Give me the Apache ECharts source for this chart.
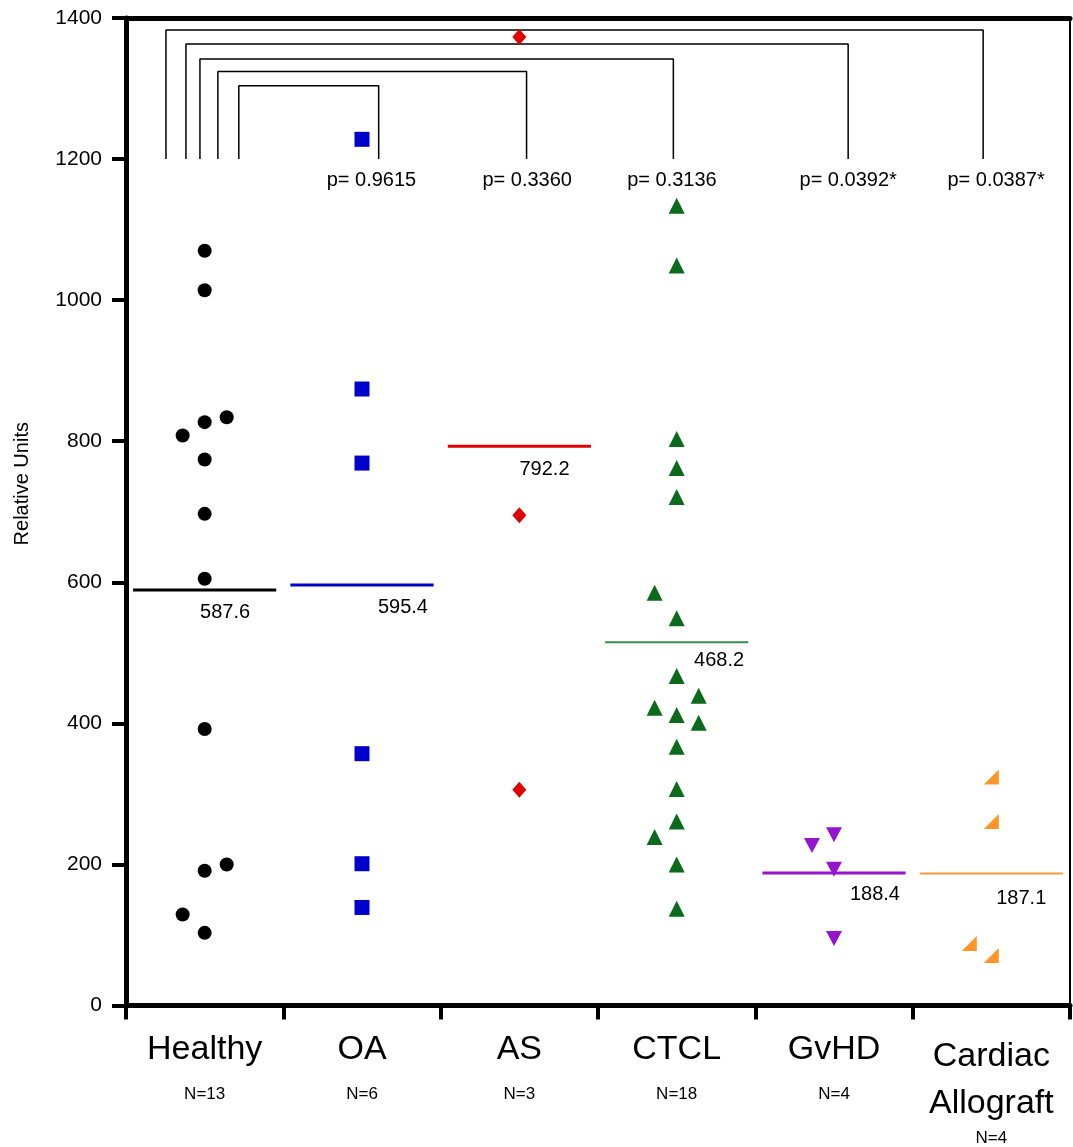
<!DOCTYPE html>
<html>
<head>
<meta charset="utf-8">
<script src="https://cdn.jsdelivr.net/npm/echarts@6/dist/echarts.min.js"></script>
<style>
    html, body { margin: 0; padding: 0; background: #fff; }
    #chart { width: 1073px; height: 1147px; }
</style>
</head>
<body>
<div id="chart"></div>
<script>
// groups along the x axis
const categories = ["Healthy", "OA", "AS", "CTCL", "GvHD", "Cardiac\nAllograft"];
const counts = ["N=13", "N=6", "N=3", "N=18", "N=4", "N=4"];

// points: [x position in group units (index + jitter), value]
const healthy = [[0, 1070], [0, 1014], [-0.14, 808], [0, 827], [0.14, 834], [0, 774], [0, 697],
    [0, 605], [0, 392], [0, 191], [0.14, 200], [-0.14, 129], [0, 103]];
const oa = [[1, 1228], [1, 874], [1, 769], [1, 357], [1, 201], [1, 139]];
const as = [[2, 1373], [2, 695], [2, 306]];
const ctcl = [[3, 1134], [3, 1049], [3, 803], [3, 762], [3, 721], [2.86, 585], [3, 549], [3, 467],
    [3.14, 439], [2.86, 422], [3, 412], [3.14, 401], [3, 367], [3, 307], [3, 261], [2.86, 239],
    [3, 200], [3, 137]];
const gvhd = [[3.86, 227], [4, 242], [4, 193], [4, 95]];
const cardiac = [[5, 324], [5, 261], [4.86, 88], [5, 71]];

// horizontal summary lines (drawn value) and their printed labels
const meanLine = [589, 596, 793, 515, 188, 187];
const meanText = ["587.6", "595.4", "792.2", "468.2", "188.4", "187.1"];
const meanTextPos = [[0.13, 557], [1.26, 564], [2.16, 760], [3.27, 489], [4.26, 157], [5.19, 152]];

// comparison brackets from Healthy to each group
const bracketLeft = [-0.246, -0.119, -0.03, 0.084, 0.217];
const bracketRight = [4.948, 4.09, 2.979, 2.046, 1.106];
const bracketTop = [1383, 1363, 1342, 1324, 1304];
const bracketBase = 1200;
const pText = ["p= 0.0387*", "p= 0.0392*", "p= 0.3136", "p= 0.3360", "p= 0.9615"];
const pTextX = [5.03, 4.09, 2.97, 2.05, 1.06];
const pTextY = 1169;

const font = "Liberation Sans, Arial, sans-serif";
const colors = ["#000000", "#0000cc", "#e00000", "#0b6a1c", "#9414d0", "#ff9526"];
const lineColors = ["#000000", "#0000cc", "#e00000", "#3c8c4a", "#9414d0", "#ff9a3c"];
const lineWidths = [3, 3, 3, 2, 3, 2];

function scatter(data, color, symbol, size, rotate) {
    return {
        type: "scatter",
        data: data,
        symbol: symbol,
        symbolSize: size,
        symbolRotate: rotate || 0,
        itemStyle: { color: color, opacity: 1 },
        z: 5,
        silent: true
    };
}

function textSeries(data) {
    return {
        type: "scatter",
        data: data,
        symbolSize: 0,
        itemStyle: { opacity: 1 },
        label: {
            show: true, position: "inside", formatter: "{b}",
            fontFamily: font, fontSize: 20, color: "#000", opacity: 1
        },
        z: 6,
        silent: true
    };
}

function paint() {
    let chart = echarts.init(document.getElementById("chart"));
    let series = [];

    bracketLeft.forEach((x1, i) => {
        series.push({
            type: "line",
            data: [[x1, bracketBase], [x1, bracketTop[i]], [bracketRight[i], bracketTop[i]], [bracketRight[i], bracketBase]],
            symbol: "none",
            lineStyle: { color: "#000", width: 1.5 },
            z: 2,
            silent: true
        });
    });

    meanLine.forEach((m, i) => {
        series.push({
            type: "line",
            data: [[i - 0.455, m], [i + 0.455, m]],
            symbol: "none",
            lineStyle: { color: lineColors[i], width: lineWidths[i] },
            z: 3,
            silent: true
        });
    });

    series.push(scatter(healthy, colors[0], "circle", 14));
    series.push(scatter(oa, colors[1], "rect", 15));
    series.push(scatter(as, colors[2], "diamond", [14, 16]));
    series.push(scatter(ctcl, colors[3], "triangle", [16, 16]));
    series.push(scatter(gvhd, colors[4], "triangle", [16, 15], 180));
    series.push(scatter(cardiac, colors[5], "path://M10,0 L10,10 L0,10 Z", [15, 15]));

    series.push(textSeries(meanTextPos.map((p, i) => ({ value: p, name: meanText[i] }))));
    series.push(textSeries(pTextX.map((x, i) => ({ value: [x, pTextY], name: pText[i] }))));

    let option = {
        animation: false,
        grid: { left: 126, right: 3, top: 18, bottom: 141 },
        xAxis: [
            {
                type: "category",
                position: "bottom",
                data: categories,
                boundaryGap: true,
                axisLine: { show: true, onZero: false, lineStyle: { color: "#000", width: 5 } },
                axisTick: { show: true, alignWithLabel: false, interval: 0, length: 14, lineStyle: { color: "#000", width: 4 } },
                axisLabel: {
                    margin: 22,
                    interval: 0,
                    formatter: function (v, i) {
                        let parts = v.split("\n");
                        let names = parts.length > 1
                            ? "{d|" + parts[0] + "}\n{e|" + parts[1] + "}"
                            : "{a|" + parts[0] + "}";
                        return names + "\n{" + (i === 5 ? "c" : "b") + "|" + counts[i] + "}";
                    },
                    rich: {
                        a: { fontFamily: font, fontSize: 34, lineHeight: 44, color: "#000" },
                        d: { fontFamily: font, fontSize: 34, lineHeight: 58, color: "#000" },
                        e: { fontFamily: font, fontSize: 34, lineHeight: 36, color: "#000" },
                        b: { fontFamily: font, fontSize: 17, lineHeight: 46, color: "#000" },
                        c: { fontFamily: font, fontSize: 17, lineHeight: 34, color: "#000" }
                    }
                },
                splitLine: { show: false }
            },
            {
                type: "value",
                position: "top",
                min: -0.5,
                max: 5.5,
                axisLine: { show: true, onZero: false, lineStyle: { color: "#000", width: 5 } },
                axisTick: { show: false },
                axisLabel: { show: false },
                splitLine: { show: false }
            }
        ],
        yAxis: [
            {
                type: "value",
                position: "left",
                min: 0,
                max: 1400,
                interval: 200,
                name: "Relative Units",
                nameLocation: "middle",
                nameGap: 94,
                nameTextStyle: { fontFamily: font, fontSize: 20, color: "#000", padding: [0, 0, 0, 56] },
                axisLine: { show: true, onZero: false, lineStyle: { color: "#000", width: 5 } },
                axisTick: { show: true, length: 14, lineStyle: { color: "#000", width: 4 } },
                axisLabel: {
                    margin: 24, fontFamily: font, fontSize: 21, color: "#000",
                    formatter: v => String(v)
                },
                splitLine: { show: false }
            },
            {
                type: "value",
                position: "right",
                min: 0,
                max: 1400,
                axisLine: { show: true, onZero: false, lineStyle: { color: "#000", width: 2 } },
                axisTick: { show: false },
                axisLabel: { show: false },
                splitLine: { show: false }
            }
        ],
        series: series.map(s => Object.assign({ xAxisIndex: 1, yAxisIndex: 0 }, s))
    };
    chart.setOption(option);
}

paint();
</script>
</body>
</html>
